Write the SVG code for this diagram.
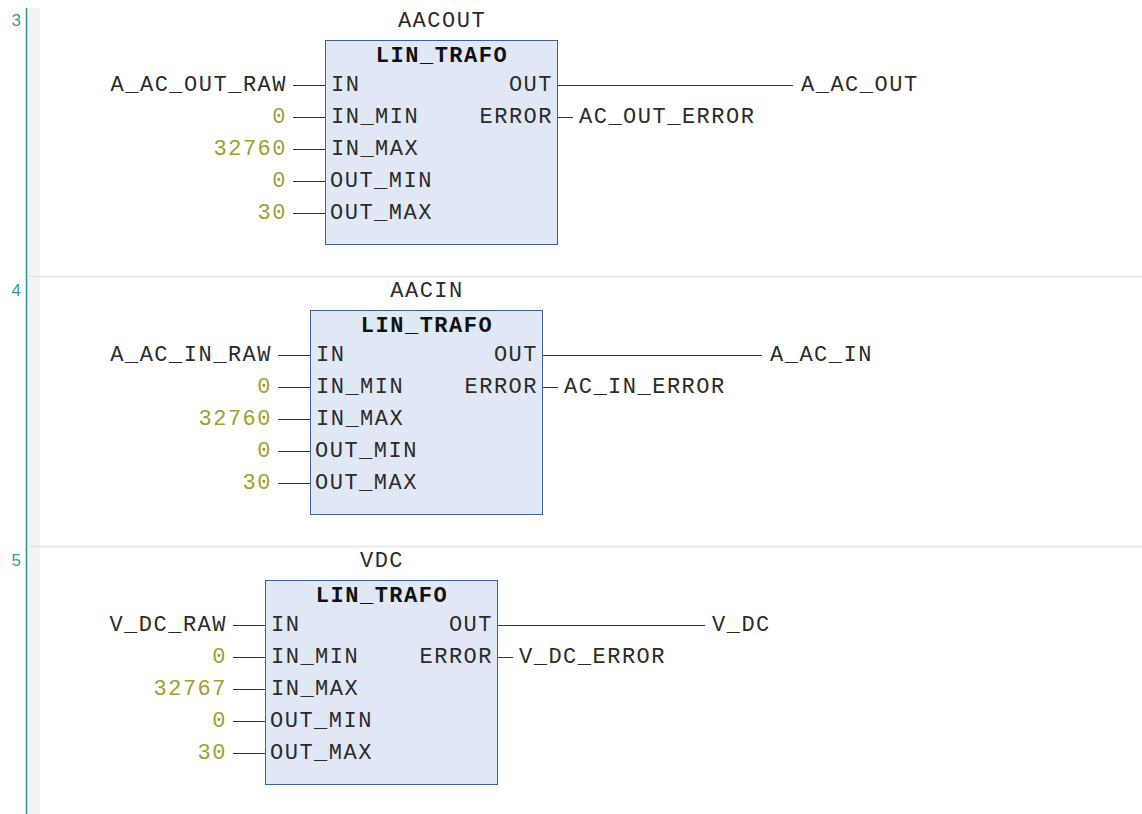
<svg xmlns="http://www.w3.org/2000/svg" width="1142" height="814" viewBox="0 0 1142 814">
<style>
.t{font-family:"Liberation Mono","Courier New",monospace;font-size:22px;letter-spacing:1.5px;fill:#2b2b2b}
.v{font-family:"Liberation Mono","Courier New",monospace;font-size:22px;letter-spacing:1.5px;fill:#9e9e32;text-anchor:end}
.e{text-anchor:end}
.m{text-anchor:middle}
.b{font-weight:bold;fill:#111}
.box{fill:#e1e8f5;stroke:#41609a;stroke-width:1}
.w{stroke:#333;stroke-width:1;fill:none}
.ln{font-family:"Liberation Sans",Arial,sans-serif;font-size:17px;fill:#3a9a9a;text-anchor:end}
</style>
<rect x="0" y="0" width="1142" height="814" fill="#ffffff"/>
<g id="gutter">
<rect x="27" y="8" width="13" height="806" fill="#f3f3f3"/>
<line x1="26.5" y1="8" x2="26.5" y2="814" stroke="#2a9090" stroke-width="1.5"/>
<line x1="27" y1="276.5" x2="1142" y2="276.5" stroke="#e4e4e4" stroke-width="1.5"/>
<line x1="27" y1="546.5" x2="1142" y2="546.5" stroke="#e4e4e4" stroke-width="1.5"/>
<text class="ln" x="21" y="26">3</text>
<text class="ln" x="21" y="296">4</text>
<text class="ln" x="21" y="566">5</text>
</g>
<g id="connectors">
<path class="w" d="M293 85.5H325M293 117.5H325M293 149.5H325M293 181.5H325M293 213.5H325M557 85.5H793M557 117.5H573"/>
<path class="w" d="M278 355.5H310M278 387.5H310M278 419.5H310M278 451.5H310M278 483.5H310M542 355.5H762M542 387.5H558"/>
<path class="w" d="M233 625.5H265M233 657.5H265M233 689.5H265M233 721.5H265M233 753.5H265M497 625.5H705M497 657.5H513"/>
</g>
<g id="AACOUT">
<rect class="box" x="325.5" y="40.5" width="232" height="204"/>
<text class="t m" x="442" y="27">AACOUT</text>
<text class="t m b" x="442" y="62">LIN_TRAFO</text>
<text class="t" x="331" y="91">IN</text>
<text class="t" x="331" y="123">IN_MIN</text>
<text class="t" x="331" y="155">IN_MAX</text>
<text class="t" x="330" y="187">OUT_MIN</text>
<text class="t" x="330" y="219">OUT_MAX</text>
<text class="t e" x="553" y="91">OUT</text>
<text class="t e" x="553" y="123">ERROR</text>
<text class="t e" x="287" y="91">A_AC_OUT_RAW</text>
<text class="v" x="287" y="123">0</text>
<text class="v" x="287" y="155">32760</text>
<text class="v" x="287" y="187">0</text>
<text class="v" x="287" y="219">30</text>
<text class="t" x="801" y="91">A_AC_OUT</text>
<text class="t" x="579" y="123">AC_OUT_ERROR</text>
</g>
<g id="AACIN">
<rect class="box" x="310.5" y="310.5" width="232" height="204"/>
<text class="t m" x="427" y="297">AACIN</text>
<text class="t m b" x="427" y="332">LIN_TRAFO</text>
<text class="t" x="316" y="361">IN</text>
<text class="t" x="316" y="393">IN_MIN</text>
<text class="t" x="316" y="425">IN_MAX</text>
<text class="t" x="315" y="457">OUT_MIN</text>
<text class="t" x="315" y="489">OUT_MAX</text>
<text class="t e" x="538" y="361">OUT</text>
<text class="t e" x="538" y="393">ERROR</text>
<text class="t e" x="272" y="361">A_AC_IN_RAW</text>
<text class="v" x="272" y="393">0</text>
<text class="v" x="272" y="425">32760</text>
<text class="v" x="272" y="457">0</text>
<text class="v" x="272" y="489">30</text>
<text class="t" x="770" y="361">A_AC_IN</text>
<text class="t" x="564" y="393">AC_IN_ERROR</text>
</g>
<g id="VDC">
<rect class="box" x="265.5" y="580.5" width="232" height="204"/>
<text class="t m" x="382" y="567">VDC</text>
<text class="t m b" x="382" y="602">LIN_TRAFO</text>
<text class="t" x="271" y="631">IN</text>
<text class="t" x="271" y="663">IN_MIN</text>
<text class="t" x="271" y="695">IN_MAX</text>
<text class="t" x="270" y="727">OUT_MIN</text>
<text class="t" x="270" y="759">OUT_MAX</text>
<text class="t e" x="493" y="631">OUT</text>
<text class="t e" x="493" y="663">ERROR</text>
<text class="t e" x="227" y="631">V_DC_RAW</text>
<text class="v" x="227" y="663">0</text>
<text class="v" x="227" y="695">32767</text>
<text class="v" x="227" y="727">0</text>
<text class="v" x="227" y="759">30</text>
<text class="t" x="712" y="631">V_DC</text>
<text class="t" x="519" y="663">V_DC_ERROR</text>
</g>
</svg>
